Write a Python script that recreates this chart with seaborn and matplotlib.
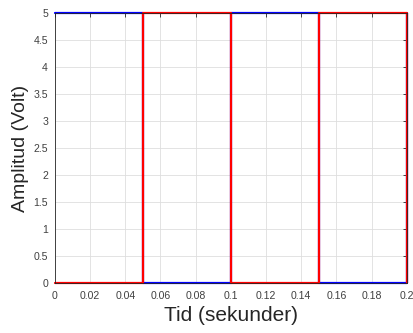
import numpy as np
import matplotlib
matplotlib.use('Agg')
import matplotlib.pyplot as plt
import seaborn as sns
from matplotlib.ticker import FuncFormatter

# switching instants (s) and signal levels (V)
tid = [0, 0.05, 0.10, 0.15, 0.20]
blaa = [5, 0, 5, 0, 5]
roed = [0, 5, 0, 5, 0]

sns.set_style('whitegrid')
plt.rcParams['font.family'] = ['Liberation Sans', 'DejaVu Sans']

fig = plt.figure(figsize=(4.13, 3.33), dpi=100)
ax = fig.add_axes([0.133, 0.150, 0.852, 0.811])

sns.lineplot(x=tid, y=blaa, color=(0, 0, 1), linewidth=1.6,
             drawstyle='steps-post', estimator=None, ax=ax)
sns.lineplot(x=tid, y=roed, color=(1, 0, 0), linewidth=1.6,
             drawstyle='steps-post', estimator=None, ax=ax)
for ln in ax.lines:
    ln.set_clip_on(False)

ax.set_xlim(0, 0.2)
ax.set_ylim(0, 5)
ax.set_xticks(np.linspace(0, 0.2, 11))
ax.set_yticks(np.linspace(0, 5, 11))
fmt = FuncFormatter(lambda v, p: '%g' % round(v, 4))
ax.xaxis.set_major_formatter(fmt)
ax.yaxis.set_major_formatter(fmt)

ax.grid(True, color='#dedede', linewidth=0.6)
for s in ax.spines.values():
    s.set_visible(True)
    s.set_color('#262626')
    s.set_linewidth(0.6)
ax.tick_params(direction='in', top=True, right=True, length=3, width=0.6,
               labelsize=7.6, colors='#262626', labelcolor='#404040')
ax.tick_params(axis='x', pad=5.5)
ax.tick_params(axis='y', pad=5)

ax.set_xlabel('Tid (sekunder)', fontsize=15, color='#262626', labelpad=4)
ax.set_ylabel('Amplitud (Volt)', fontsize=14, color='#262626', labelpad=3)

fig.savefig('out.png', dpi=100)
